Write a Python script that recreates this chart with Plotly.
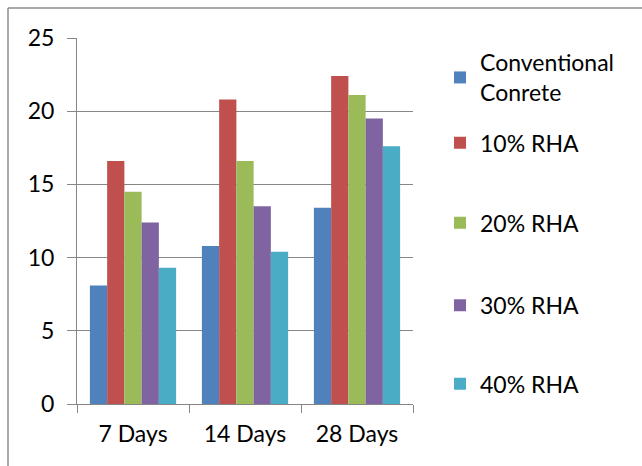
import plotly.graph_objects as go

# Compressive strength by curing age
categories = ["7 Days", "14 Days", "28 Days"]
series_names = ["Conventional<br>Conrete", "10% RHA", "20% RHA", "30% RHA", "40% RHA"]
conventional = [8.1, 10.8, 13.4]
rha_10 = [16.6, 20.8, 22.4]
rha_20 = [14.5, 16.6, 21.1]
rha_30 = [12.4, 13.5, 19.5]
rha_40 = [9.3, 10.4, 17.6]
colors = ["#4F81BD", "#C0504D", "#9BBB59", "#8064A2", "#4BACC6"]
y_ticks = [0, 5, 10, 15, 20, 25]

series_values = [conventional, rha_10, rha_20, rha_30, rha_40]
legend_ids = ["legend", "legend2", "legend3", "legend4", "legend5"]
legend_y = [0.892, 0.714, 0.495, 0.27, 0.055]

FONT = "Lato, Carlito, Calibri, sans-serif"
FS = 23
W, H = 642, 466
L, R, T, B = 77, 229, 38, 62
pw, ph = W - L - R, H - T - B

fig = go.Figure()
for name, vals, col, lg in zip(series_names, series_values, colors, legend_ids):
    fig.add_trace(go.Bar(
        x=categories, y=vals, name=name,
        marker=dict(color=col, line=dict(width=0)),
        legend=lg,
    ))

legend_common = dict(
    x=(440 - L) / pw, xanchor="left", yanchor="middle",
    font=dict(family=FONT, size=FS, color="#000000"),
    bgcolor="rgba(0,0,0,0)", borderwidth=0, visible=True,
)
layout_legends = {}
for lg, ly in zip(legend_ids, legend_y):
    layout_legends[lg] = dict(legend_common, y=ly)

# outer chart frame (top and left edges)
fx0 = (8 - L) / pw
fx1 = (W + 5 - L) / pw
fy_top = (T + ph - 8) / ph
fy_bot = -(B + 5) / ph
shapes = [
    dict(type="line", xref="paper", yref="paper", x0=fx0, x1=fx1, y0=fy_top, y1=fy_top,
         line=dict(color="#8C8C8C", width=1.5)),
    dict(type="line", xref="paper", yref="paper", x0=fx0, x1=fx0, y0=fy_bot, y1=fy_top,
         line=dict(color="#8C8C8C", width=1.5)),
]

fig.update_layout(
    width=W, height=H,
    margin=dict(l=L, r=R, t=T, b=B, pad=0),
    paper_bgcolor="white", plot_bgcolor="white",
    showlegend=True,
    barmode="group", bargap=0.23, bargroupgap=0,
    font=dict(family=FONT, size=FS, color="#000000"),
    shapes=shapes,
    **layout_legends,
)
fig.update_xaxes(
    type="category", tickson="boundaries", ticks="outside", ticklen=8,
    tickcolor="#868686", showline=True, linecolor="#868686", linewidth=1,
    showgrid=False, tickfont=dict(family=FONT, size=FS, color="#000000"),
    ticklabelstandoff=9,
)
fig.update_yaxes(
    range=[0, 25], tickvals=y_ticks, ticks="outside", ticklen=9,
    tickcolor="#868686", showline=True, linecolor="#868686", linewidth=1,
    showgrid=True, gridcolor="#868686", gridwidth=1, zeroline=False,
    tickfont=dict(family=FONT, size=FS, color="#000000"),
    ticklabelstandoff=8,
)

fig.write_html("out.html")
